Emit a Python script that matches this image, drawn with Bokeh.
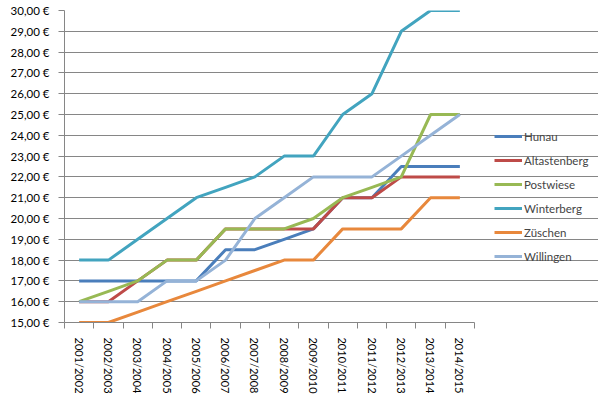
import math
from bokeh.plotting import figure
from bokeh.models import FixedTicker, Legend, LegendItem, Range1d
from bokeh.embed import file_html
from bokeh.resources import INLINE

seasons = ["2001/2002", "2002/2003", "2003/2004", "2004/2005", "2005/2006", "2006/2007",
           "2007/2008", "2008/2009", "2009/2010", "2010/2011", "2011/2012", "2012/2013",
           "2013/2014", "2014/2015"]
hunau = [17, 17, 17, 17, 17, 18.5, 18.5, 19, 19.5, 21, 21, 22.5, 22.5, 22.5]
altastenberg = [16, 16, 17, 18, 18, 19.5, 19.5, 19.5, 19.5, 21, 21, 22, 22, 22]
postwiese = [16, 16.5, 17, 18, 18, 19.5, 19.5, 19.5, 20, 21, 21.5, 22, 25, 25]
winterberg = [18, 18, 19, 20, 21, 21.5, 22, 23, 23, 25, 26, 29, 30, 30]
zuschen = [15, 15, 15.5, 16, 16.5, 17, 17.5, 18, 18, 19.5, 19.5, 19.5, 21, 21]
willingen = [16, 16, 16, 17, 17, 18, 20, 21, 22, 22, 22, 23, 24, 25]

series_names = ["Hunau", "Altastenberg", "Postwiese", "Winterberg", "Züschen", "Willingen"]
series_values = [hunau, altastenberg, postwiese, winterberg, zuschen, willingen]
colors = ["#4A7EBB", "#BE4B48", "#98B954", "#42A4BF", "#E8883C", "#95B3D7"]

y_ticks = list(range(15, 31))
y_tick_labels = ["%d,00 €" % v for v in y_ticks]

FONT = "Lato"

W, H = 598, 396
LEFT, TOP, BOTTOM = 64, 10, 72
PLOT_W = 410  # pixel width of the category area
n = len(seasons)
x_end = n * (W - LEFT) / PLOT_W  # extend the range so the legend fits inside the frame

p = figure(width=W, height=H, output_backend="svg", toolbar_location=None,
           x_range=Range1d(0, x_end), y_range=Range1d(15, 30),
           min_border_left=LEFT, min_border_right=0, min_border_top=TOP, min_border_bottom=BOTTOM)
p.outline_line_color = None

xs = [i + 0.5 for i in range(n)]

renderers = []
for name, vals, col in zip(series_names, series_values, colors):
    r = p.line(xs, vals, line_color=col, line_width=3)
    renderers.append(r)

# y axis
p.yaxis.ticker = FixedTicker(ticks=y_ticks)
p.yaxis.major_label_overrides = {v: lab for v, lab in zip(y_ticks, y_tick_labels)}
p.yaxis.axis_line_color = "#868686"
p.yaxis.major_tick_line_color = "#868686"
p.yaxis.major_tick_out = 6
p.yaxis.major_tick_in = 0
p.yaxis.minor_tick_line_color = None
p.yaxis.major_label_text_font = FONT
p.yaxis.major_label_text_font_size = "11.5px"
p.yaxis.major_label_text_color = "#000000"
p.yaxis.major_label_standoff = 9

# x axis
p.xaxis.ticker = FixedTicker(ticks=xs, minor_ticks=list(range(n + 1)))
p.xaxis.bounds = (0, n)
p.xaxis.major_label_overrides = {x: s for x, s in zip(xs, seasons)}
p.xaxis.major_label_orientation = -math.pi / 2
p.xaxis.axis_line_color = "#868686"
p.xaxis.major_tick_line_color = None
p.xaxis.major_tick_out = 0
p.xaxis.major_tick_in = 0
p.xaxis.minor_tick_line_color = "#868686"
p.xaxis.minor_tick_out = 6
p.xaxis.minor_tick_in = 0
p.xaxis.major_label_text_font = FONT
p.xaxis.major_label_text_font_size = "11px"
p.xaxis.major_label_text_color = "#000000"
p.xaxis.major_label_standoff = 9

p.xgrid.grid_line_color = None
p.ygrid.grid_line_color = "#868686"
p.ygrid.grid_line_width = 1
p.ygrid.bounds = (0, n)

legend = Legend(items=[LegendItem(label=nm, renderers=[r]) for nm, r in zip(series_names, renderers)],
                location=(430, 59), padding=0, margin=0, spacing=10,
                glyph_width=28, glyph_height=14, label_height=14, label_standoff=2,
                label_text_font=FONT, label_text_font_size="11.5px",
                border_line_color=None, background_fill_alpha=0)
p.add_layout(legend, "center")

open("out.html", "w").write(file_html(p, INLINE))
